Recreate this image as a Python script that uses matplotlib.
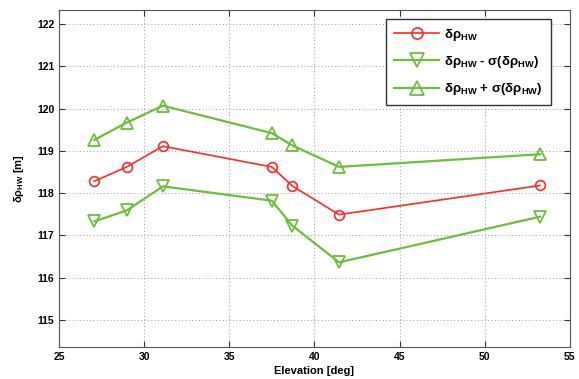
import matplotlib.pyplot as plt

plt.rcParams["font.family"] = ["Liberation Sans", "DejaVu Sans"]
plt.rcParams["font.weight"] = "bold"
plt.rcParams["mathtext.fontset"] = "custom"
plt.rcParams["mathtext.rm"] = "Liberation Sans:bold"
plt.rcParams["mathtext.it"] = "Liberation Sans:bold"
plt.rcParams["mathtext.bf"] = "Liberation Sans:bold"

# elevation angles [deg]
elevation = [27.07, 28.98, 31.1, 37.5, 38.7, 41.45, 53.25]
# delta rho HW and +/- sigma
rho_hw = [118.28, 118.62, 119.11, 118.62, 118.17, 117.49, 118.18]
rho_minus = [117.33, 117.59, 118.16, 117.82, 117.23, 116.36, 117.44]
rho_plus = [119.26, 119.67, 120.07, 119.42, 119.13, 118.62, 118.92]

xticks = [25, 30, 35, 40, 45, 50, 55]
yticks = [115, 116, 117, 118, 119, 120, 121, 122]

red = "#ff2a2a"
green = "#6cbf3c"

fig = plt.figure(figsize=(5.79, 3.79), dpi=100)
ax = fig.add_axes([0.102, 0.085, 0.882, 0.889])

ax.plot(elevation, rho_hw, color=red, linewidth=1.2, marker="o", markersize=7,
        markerfacecolor="none", markeredgewidth=1.2, label=r"δρ$_{\rm HW}$")
ax.plot(elevation, rho_minus, color=green, linewidth=1.6, marker="v", markersize=8.5,
        markerfacecolor="none", markeredgewidth=1.3,
        label=r"δρ$_{\rm HW}$ - σ(δρ$_{\rm HW}$)")
ax.plot(elevation, rho_plus, color=green, linewidth=1.6, marker="^", markersize=8.5,
        markerfacecolor="none", markeredgewidth=1.3,
        label=r"δρ$_{\rm HW}$ + σ(δρ$_{\rm HW}$)")

ax.set_xlim(25, 55)
ax.set_ylim(114.36, 122.34)
ax.set_xticks(xticks)
ax.set_yticks(yticks)
ax.tick_params(direction="in", top=True, right=True, labelsize=7.5, length=4,
               color="#333333")
for s in ax.spines.values():
    s.set_color("#555555")
ax.grid(True, linestyle=(0, (1, 2.5)), color="#999999", linewidth=0.7)

ax.set_xlabel("Elevation [deg]", fontsize=8, fontweight="bold", labelpad=3)
ax.set_ylabel(r"δρ$_{\rm HW}$ [m]", fontsize=8, fontweight="bold", labelpad=8)

leg = ax.legend(loc="upper right", fontsize=9.5, handlelength=3.4, borderpad=0.6,
                labelspacing=0.85, handletextpad=0.4, fancybox=False, framealpha=1,
                markerscale=1.15, bbox_to_anchor=(0.963, 0.973), borderaxespad=0)
leg.get_frame().set_edgecolor("#333333")
leg.get_frame().set_linewidth(1.0)

fig.savefig("out.png", dpi=100)
